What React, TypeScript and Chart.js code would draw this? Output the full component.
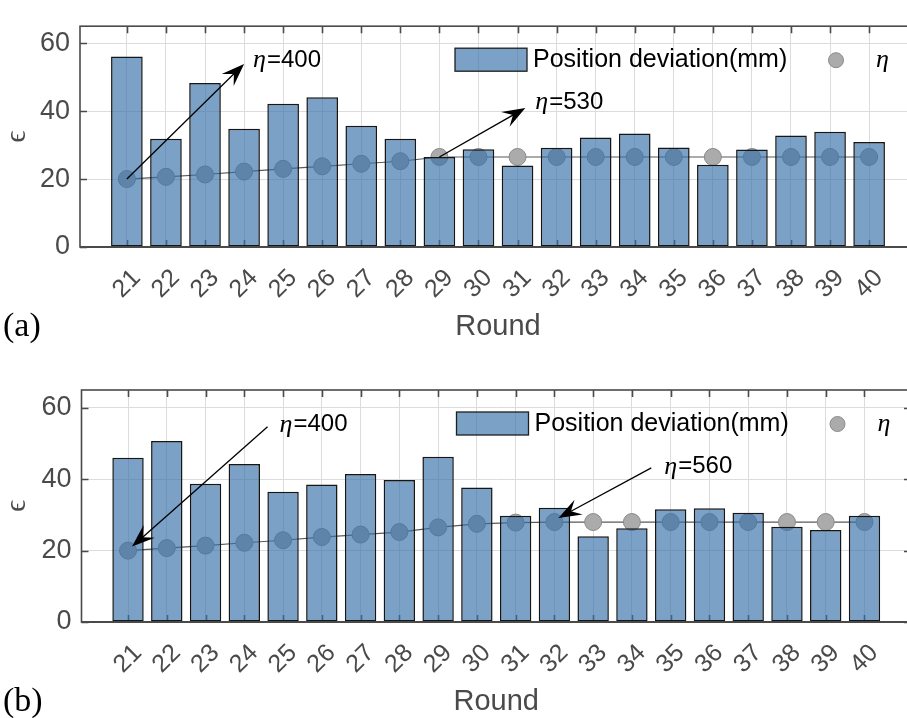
import React, { useEffect, useRef } from "react";
import { Chart, registerables } from "chart.js";

Chart.register(...registerables);

// ---- data ---------------------------------------------------------------
const ROUNDS = [21, 22, 23, 24, 25, 26, 27, 28, 29, 30, 31, 32, 33, 34, 35, 36, 37, 38, 39, 40];
const Y_TICKS = [0, 20, 40, 60];

// (a) position deviation (mm) and η per round
const DEVIATION_A = [56.1, 31.9, 48.3, 34.8, 42.2, 44.1, 35.7, 31.9, 26.5, 28.8, 24.0, 29.2, 32.2, 33.4, 29.3, 24.2, 28.7, 32.8, 33.9, 30.9];
const ETA_A = [400, 413, 427, 444, 460, 475, 490, 505, 530, 530, 530, 530, 530, 530, 530, 530, 530, 530, 530, 530];

// (b) position deviation (mm) and η per round
const DEVIATION_B = [46.0, 50.7, 38.7, 44.3, 36.5, 38.5, 41.5, 39.8, 46.3, 37.7, 29.8, 32.0, 24.0, 26.3, 31.6, 31.9, 30.6, 26.7, 25.8, 29.8];
const ETA_B = [400, 414, 428, 444, 458, 476, 490, 504, 530, 550, 557, 560, 560, 560, 560, 560, 560, 560, 560, 560];

// η is shown on the ε axis as η / ETA_PER_EPS
const ETA_PER_EPS = 20;

// ---- styling ------------------------------------------------------------
const SANS = '"Liberation Sans", Arial, Helvetica, sans-serif';
const SERIF = '"Liberation Serif", "Times New Roman", Times, serif';
const AXIS_GRAY = "#4a4a4a";
const BAR_FILL = "rgba(55, 113, 169, 0.66)";
const DOT_FILL = "#ababab";
const DOT_EDGE = "#8a8a8a";
const CANVAS_W = 930;

type Callout = {
  round: number; // the marked round
  endX: number; // free end of the arrow, in rounds
  endEps: number; // free end of the arrow, in ε
  headAtMark: boolean; // arrowhead on the mark (true) or at the free end
  textDx: number;
  textDy: number;
};

const CALLOUTS_A: Callout[] = [
  { round: 21, endX: 24.0, endEps: 53.9, headAtMark: false, textDx: 9, textDy: -4 },
  { round: 29, endX: 31.2, endEps: 40.9, headAtMark: false, textDx: 10, textDy: -6 },
];
const CALLOUTS_B: Callout[] = [
  { round: 21, endX: 24.6, endEps: 54.7, headAtMark: true, textDx: 12, textDy: -2 },
  { round: 32, endX: 34.5, endEps: 43.2, headAtMark: true, textDx: 13, textDy: -1 },
];

type Box = { left: number; top: number; right: number; bottom: number };

function drawArrow(ctx: CanvasRenderingContext2D, x0: number, y0: number, x1: number, y1: number) {
  const ang = Math.atan2(y1 - y0, x1 - x0);
  const c = Math.cos(ang);
  const s = Math.sin(ang);
  const L = 23;
  const W = 8.5;
  ctx.beginPath();
  ctx.moveTo(x0, y0);
  ctx.lineTo(x1 - c * L * 0.6, y1 - s * L * 0.6);
  ctx.stroke();
  ctx.beginPath();
  ctx.moveTo(x1, y1);
  ctx.lineTo(x1 - L * c + W * s, y1 - L * s - W * c);
  ctx.lineTo(x1 - 0.62 * L * c, y1 - 0.62 * L * s);
  ctx.lineTo(x1 - L * c - W * s, y1 - L * s + W * c);
  ctx.closePath();
  ctx.fill();
}

function etaText(ctx: CanvasRenderingContext2D, x: number, y: number, rest: string, size: number) {
  ctx.textBaseline = "middle";
  ctx.textAlign = "left";
  ctx.font = `italic ${size + 2}px ${SERIF}`;
  ctx.fillText("η", x, y);
  const w = ctx.measureText("η").width;
  if (rest) {
    ctx.font = `${size}px ${SANS}`;
    ctx.fillText(rest, x + w + 1, y);
  }
}

function makeDecor(tag: string, eta: number[], callouts: Callout[]) {
  return {
    id: "panelDecor",
    beforeDatasetsDraw(chart: any) {
      const { ctx, chartArea: a, scales } = chart;
      const x = scales.x;
      const y = scales.y;
      // inward tick marks (under the translucent bars)
      ctx.save();
      ctx.strokeStyle = AXIS_GRAY;
      ctx.lineWidth = 1.6;
      ctx.beginPath();
      for (const t of x.ticks) {
        const px = Math.round(x.getPixelForValue(t.value)) + 0.5;
        ctx.moveTo(px, a.top);
        ctx.lineTo(px, a.top + 7);
        ctx.moveTo(px, a.bottom);
        ctx.lineTo(px, a.bottom - 7);
      }
      for (const t of y.ticks) {
        const py = Math.round(y.getPixelForValue(t.value)) + 0.5;
        ctx.moveTo(a.left, py);
        ctx.lineTo(a.left + 7, py);
        ctx.moveTo(a.right, py);
        ctx.lineTo(a.right - 7, py);
      }
      ctx.stroke();
      ctx.restore();
    },
    afterDatasetsDraw(chart: any) {
      const { ctx, chartArea: a } = chart;
      ctx.save();
      ctx.strokeStyle = AXIS_GRAY;
      ctx.lineWidth = 1.6;
      ctx.strokeRect(a.left, a.top, a.right - a.left, a.bottom - a.top);
      ctx.lineWidth = 2.2;
      ctx.beginPath();
      ctx.moveTo(a.left, a.bottom);
      ctx.lineTo(a.right, a.bottom);
      ctx.stroke();
      ctx.restore();
    },
    afterDraw(chart: any) {
      const { ctx, chartArea: a, scales } = chart;
      const x = scales.x;
      const y = scales.y;
      ctx.save();

      // rotated round labels, centred under each tick
      ctx.fillStyle = AXIS_GRAY;
      ctx.font = `25px ${SANS}`;
      ctx.textAlign = "center";
      ctx.textBaseline = "middle";
      for (const t of x.ticks) {
        const px = x.getPixelForValue(t.value);
        ctx.save();
        ctx.translate(px, a.bottom + 37);
        ctx.rotate(-Math.PI / 4);
        ctx.fillText(String(t.value), 0, 0);
        ctx.restore();
      }

      // axis titles
      ctx.font = `29px ${SANS}`;
      ctx.fillText("Round", (a.left + a.right) / 2, a.bottom + 80);
      ctx.save();
      ctx.translate(17, (a.top + a.bottom) / 2);
      ctx.rotate(-Math.PI / 2);
      ctx.font = `30px ${SERIF}`;
      ctx.fillText("ϵ", 0, 0);
      ctx.restore();

      // panel tag
      ctx.fillStyle = "#000";
      ctx.textAlign = "left";
      ctx.font = `34px ${SERIF}`;
      ctx.fillText(tag, 3, a.bottom + 80);

      // legend
      const lx = a.left + 375;
      const ly = a.top + 22;
      ctx.fillStyle = BAR_FILL;
      ctx.fillRect(lx, ly, 72, 23);
      ctx.strokeStyle = "#1e1e1e";
      ctx.lineWidth = 1.3;
      ctx.strokeRect(lx, ly, 72, 23);
      ctx.fillStyle = "#000";
      ctx.font = `25px ${SANS}`;
      ctx.textBaseline = "middle";
      ctx.fillText("Position deviation(mm)", lx + 78, ly + 12);
      ctx.beginPath();
      ctx.arc(lx + 381, ly + 12, 7.5, 0, Math.PI * 2);
      ctx.fillStyle = DOT_FILL;
      ctx.fill();
      ctx.strokeStyle = DOT_EDGE;
      ctx.lineWidth = 1;
      ctx.stroke();
      ctx.fillStyle = "#000";
      etaText(ctx, lx + 421, ly + 12, "", 24);

      // η call-outs
      ctx.strokeStyle = "#000";
      ctx.fillStyle = "#000";
      ctx.lineWidth = 1.3;
      for (const c of callouts) {
        const i = ROUNDS.indexOf(c.round);
        const mx = x.getPixelForValue(c.round);
        const my = y.getPixelForValue(eta[i] / ETA_PER_EPS);
        const ex = x.getPixelForValue(c.endX);
        const ey = y.getPixelForValue(c.endEps);
        if (c.headAtMark) drawArrow(ctx, ex, ey, mx + 4, my - 4);
        else drawArrow(ctx, mx, my, ex, ey);
        etaText(ctx, ex + c.textDx, ey + c.textDy, `=${eta[i]}`, 24);
      }
      ctx.restore();
    },
  };
}

type PanelProps = {
  tag: string;
  deviation: number[];
  eta: number[];
  callouts: Callout[];
  top: number;
  height: number;
  plot: Box;
};

function Panel({ tag, deviation, eta, callouts, top, height, plot }: PanelProps) {
  const ref = useRef<HTMLCanvasElement | null>(null);

  useEffect(() => {
    if (!ref.current) return;
    const chart = new Chart(ref.current, {
      data: {
        datasets: [
          {
            type: "bar",
            label: "Position deviation(mm)",
            data: ROUNDS.map((r, i) => ({ x: r, y: deviation[i] })),
            backgroundColor: BAR_FILL,
            borderColor: "#161616",
            borderWidth: 1.5,
            borderSkipped: false,
            barPercentage: 0.81,
            categoryPercentage: 1,
            order: 0,
          },
          {
            type: "line",
            label: "η",
            data: ROUNDS.map((r, i) => ({ x: r, y: eta[i] / ETA_PER_EPS })),
            borderColor: "#595959",
            borderWidth: 1.2,
            pointRadius: 8.5,
            pointBackgroundColor: DOT_FILL,
            pointBorderColor: DOT_EDGE,
            pointBorderWidth: 1,
            tension: 0,
            order: 1,
          },
        ],
      } as any,
      options: {
        responsive: false,
        animation: false,
        events: [],
        devicePixelRatio: 1,
        layout: {
          padding: { left: 0, top: plot.top, right: CANVAS_W - plot.right, bottom: 0 },
        },
        plugins: { legend: { display: false }, tooltip: { enabled: false } },
        scales: {
          x: {
            type: "linear",
            offset: false,
            min: 19.8,
            max: 41.2,
            afterBuildTicks: (s: any) => {
              s.ticks = ROUNDS.map((v) => ({ value: v }));
            },
            afterFit: (s: any) => {
              s.height = height - plot.bottom;
            },
            ticks: { display: false },
            grid: { color: "#dcdcdc", lineWidth: 1, drawTicks: false, offset: false },
            border: { display: false },
          },
          y: {
            type: "linear",
            min: 0,
            max: 65,
            afterBuildTicks: (s: any) => {
              s.ticks = Y_TICKS.map((v) => ({ value: v }));
            },
            afterFit: (s: any) => {
              s.width = plot.left;
            },
            ticks: {
              color: AXIS_GRAY,
              font: { family: SANS, size: 27 },
              padding: 10,
            },
            grid: { color: "#dcdcdc", lineWidth: 1, drawTicks: false },
            border: { display: false },
          },
        },
      } as any,
      plugins: [makeDecor(tag, eta, callouts)],
    });
    return () => chart.destroy();
  }, [tag, deviation, eta, callouts, height, plot]);

  return (
    <canvas
      ref={ref}
      width={CANVAS_W}
      height={height}
      style={{ position: "absolute", left: 0, top, width: CANVAS_W, height }}
    />
  );
}

const PLOT_A: Box = { left: 80, top: 12, right: 916, bottom: 247 };
const PLOT_B: Box = { left: 81.5, top: 30, right: 911, bottom: 262 };

export default function App() {
  return (
    <div
      style={{
        position: "absolute",
        left: 0,
        top: 0,
        width: 907,
        height: 718,
        overflow: "hidden",
        background: "#fff",
      }}
    >
      <Panel tag="(a)" deviation={DEVIATION_A} eta={ETA_A} callouts={CALLOUTS_A} top={0} height={360} plot={PLOT_A} />
      <Panel tag="(b)" deviation={DEVIATION_B} eta={ETA_B} callouts={CALLOUTS_B} top={360} height={358} plot={PLOT_B} />
    </div>
  );
}
